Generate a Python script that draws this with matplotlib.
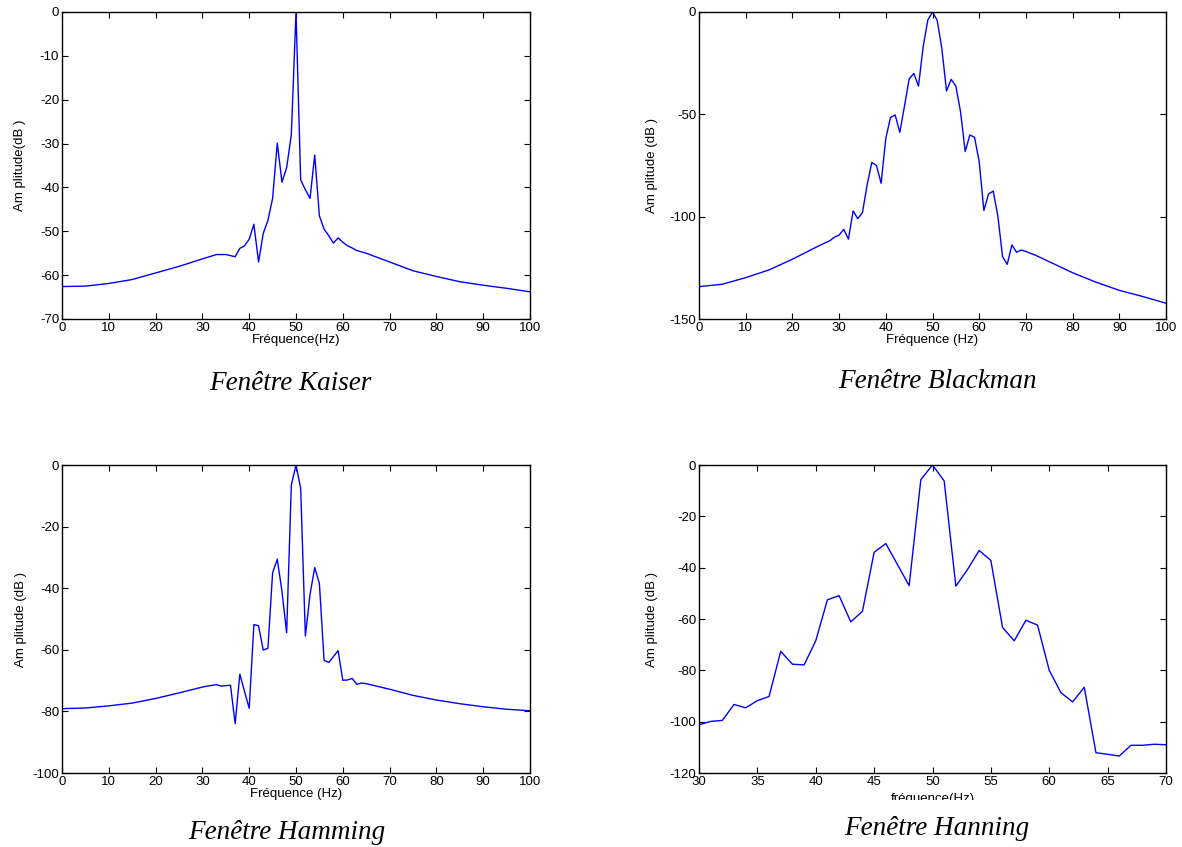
#Spectres d'amplitude pour quatre fenetres (Kaiser, Blackman, Hamming, Hanning)

import matplotlib
matplotlib.use("Agg")
import matplotlib.pyplot as plt
from matplotlib.patches import Rectangle

plt.rcParams["axes.unicode_minus"] = False  #tirets simples comme dans matlab

#donnees
kaiser_f = [0, 5, 10, 15, 20, 25, 30, 33, 35, 37, 38, 39, 40, 41, 42, 43, 44, 45, 46, 47, 48, 49, 50,
            51, 52, 53, 54, 55, 56, 57, 58, 59, 60, 61, 62, 63, 65, 70, 75, 80, 85, 90, 95, 100]
kaiser_db = [-62.6, -62.5, -61.9, -61.0, -59.5, -58.0, -56.3, -55.3, -55.3, -55.8, -53.9, -53.3, -51.8,
             -48.4, -57.0, -50.5, -47.5, -42.5, -29.9, -38.8, -35.5, -28.0, 0.0,
             -38.3, -40.5, -42.5, -32.6, -46.5, -49.5, -51.0, -52.7, -51.5, -52.5, -53.3, -53.8, -54.4,
             -55.0, -57.0, -59.0, -60.3, -61.5, -62.3, -63.0, -63.8]

blackman_f = [0, 5, 10, 15, 20, 25, 27, 28, 29, 30, 31, 32, 33, 34, 35, 36, 37, 38, 39, 40, 41, 42, 43,
              44, 45, 46, 47, 48, 49, 50, 51, 52, 53, 54, 55, 56, 57, 58, 59, 60, 61, 62, 63, 64, 65,
              66, 67, 68, 69, 70, 72, 75, 80, 85, 90, 95, 100]
blackman_db = [-134.2, -133.0, -129.8, -126.0, -120.8, -115.0, -112.8, -111.8, -110.0, -109.0, -106.2,
               -111.0, -97.2, -101.0, -98.0, -84.5, -73.5, -75.0, -83.7, -61.7, -51.6, -50.3, -58.8,
               -46.0, -32.7, -30.0, -36.2, -17.0, -3.9, 0.0, -4.0, -17.8, -38.6, -32.9, -36.2,
               -48.7, -68.2, -60.1, -61.2, -73.1, -97.0, -88.9, -87.5, -99.7, -119.5,
               -123.3, -113.8, -117.4, -116.3, -117.0, -118.8, -122.0, -127.4, -132.0, -136.0, -139.0, -142.3]

hamming_f = [0, 5, 10, 15, 20, 25, 30, 31, 33, 34, 36, 37, 38, 39, 40, 41, 42, 43, 44, 45, 46, 47, 48,
             49, 50, 51, 52, 53, 54, 55, 56, 57, 58, 59, 60, 61, 62, 63, 64, 65, 70, 75, 80, 85, 90, 95, 100]
hamming_db = [-79.1, -78.9, -78.2, -77.3, -75.8, -74.0, -72.1, -71.8, -71.3, -71.8, -71.5, -84.0, -67.9,
              -73.5, -79.0, -51.8, -52.2, -60.1, -59.5, -35.0, -30.6, -41.0, -54.5,
              -6.5, 0.0, -7.6, -55.5, -42.0, -33.3, -38.5, -63.4, -64.1, -62.2, -60.3, -69.9, -69.8,
              -69.3, -71.2, -70.8, -71.0, -72.8, -74.8, -76.3, -77.5, -78.5, -79.3, -79.8]

hanning_f = list(range(30, 71))
hanning_db = [-101.2, -99.9, -99.5, -93.3, -94.6, -91.8, -90.2, -72.6, -77.6, -77.9,
              -68.5, -52.5, -50.9, -61.1, -57.0, -34.0, -30.6, -38.8, -47.0, -5.7,
              0.0, -6.2, -47.2, -40.7, -33.3, -37.2, -63.3, -68.5, -60.5, -62.4,
              -80.0, -88.7, -92.3, -86.6, -112.1, -112.7, -113.4, -109.2, -109.2, -108.8, -109.0]

narrow = ["Liberation Sans Narrow", "Liberation Sans", "DejaVu Sans"]
serif = ["Liberation Serif", "DejaVu Serif"]

fig = plt.figure(figsize=(11.82, 8.47), dpi=100)
W, H = 1182.0, 847.0

def make_ax(x0, x1, y0, y1):
    return fig.add_axes([x0 / W, 1 - y1 / H, (x1 - x0) / W, (y1 - y0) / H])

def style(ax, xlim, ylim, xticks, yticks):
    ax.set_xlim(xlim)
    ax.set_ylim(ylim)
    ax.set_xticks(xticks)
    ax.set_yticks(yticks)
    ax.tick_params(direction="in", top=True, right=True, length=4, width=0.8,
                   labelsize=9.5, pad=2)
    for lab in ax.get_xticklabels() + ax.get_yticklabels():
        lab.set_family(narrow)
    for s in ax.spines.values():
        s.set_linewidth(1.0)

#Kaiser
ax1 = make_ax(62, 530, 12, 319)
ax1.plot(kaiser_f, kaiser_db, color="#0000ff", lw=1)
style(ax1, (0, 100), (-70, 0), range(0, 101, 10), range(-70, 1, 10))
ax1.set_xlabel("Fréquence(Hz)", family=narrow, fontsize=9.5, labelpad=0)
ax1.set_ylabel("Am plitude(dB )", family=narrow, fontsize=9.5, labelpad=10)

#Blackman
ax2 = make_ax(699, 1166, 12, 319)
ax2.plot(blackman_f, blackman_db, color="#0000ff", lw=1)
style(ax2, (0, 100), (-150, 0), range(0, 101, 10), range(-150, 1, 50))
ax2.set_xlabel("Fréquence (Hz)", family=narrow, fontsize=9.5, labelpad=0)
ax2.set_ylabel("Am plitude (dB )", family=narrow, fontsize=9.5, labelpad=8)

#Hamming
ax3 = make_ax(62, 530, 465, 773)
ax3.plot(hamming_f, hamming_db, color="#0000ff", lw=1)
style(ax3, (0, 100), (-100, 0), range(0, 101, 10), range(-100, 1, 20))
ax3.set_xlabel("Fréquence (Hz)", family=narrow, fontsize=9.5, labelpad=0)
ax3.set_ylabel("Am plitude (dB )", family=narrow, fontsize=9.5, labelpad=4)

#Hanning
ax4 = make_ax(699, 1166, 465, 773)
ax4.plot(hanning_f, hanning_db, color="#0000ff", lw=1)
style(ax4, (30, 70), (-120, 0), range(30, 71, 5), range(-120, 1, 20))
ax4.set_xlabel("fréquence(Hz)", family=narrow, fontsize=9.5, labelpad=4)
ax4.set_ylabel("Am plitude (dB )", family=narrow, fontsize=9.5, labelpad=8)

#le label de l'axe x du dernier graphe est coupe dans l'original
fig.patches.append(Rectangle((0.55, 0), 0.45, 1 - 800 / H, transform=fig.transFigure,
                             facecolor="white", edgecolor="none", zorder=5))

#titres sous chaque graphe
titles = [("Fenêtre Kaiser", 290, 383), ("Fenêtre Blackman", 937, 381),
          ("Fenêtre Hamming", 287, 832), ("Fenêtre Hanning", 937, 828)]
for txt, x, y in titles:
    fig.text(x / W, 1 - y / H, txt, family=serif, style="italic", fontsize=19.5,
             ha="center", va="center", zorder=6)

plt.savefig("out.png", dpi=100)
